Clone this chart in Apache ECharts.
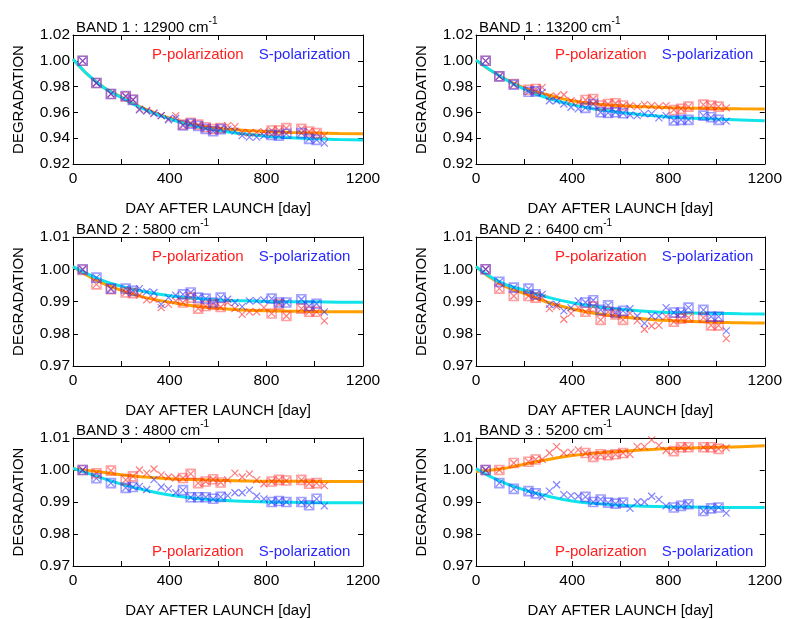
<!DOCTYPE html>
<html>
<head>
<meta charset="utf-8">
<script src="https://cdn.jsdelivr.net/npm/echarts@6/dist/echarts.min.js"></script>
<style>
  html, body { margin: 0; padding: 0; background: #fff; }
  #chart { width: 785px; height: 619px; }
</style>
</head>
<body>
<div id="chart"></div>
<script>
// measurement days (all points drawn as "x"); a subset is also boxed with a square
const DAYS = [40, 97, 157, 218, 248, 275, 305, 335, 365, 395, 425, 455, 487, 518, 549, 580, 611, 640, 670, 700, 730, 760, 790, 822, 852, 883, 945, 977, 1008, 1040];
const SQUARE_DAYS = [40, 97, 157, 218, 248, 455, 487, 518, 549, 580, 611, 822, 852, 883, 945, 977, 1008];
const FIT_DAYS = [0, 100, 200, 300, 400, 500, 600, 700, 800, 900, 1000, 1100, 1200];
const X_TICKS = [0, 400, 800, 1200];

// BAND 1 : 12900
const b1a_P = [1.000, 0.9828, 0.9743, 0.9722, 0.9700, 0.9625, 0.9615, 0.9596, 0.9575, 0.9550, 0.9575, 0.9505, 0.9520, 0.9505, 0.9485, 0.9470, 0.9478, 0.9498, 0.9490, 0.9445, 0.9440, 0.9445, 0.9450, 0.9460, 0.9460, 0.9478, 0.9472, 0.9452, 0.9439, 0.9420];
const b1a_S = [1.000, 0.9828, 0.9743, 0.9727, 0.9696, 0.9619, 0.9610, 0.9590, 0.9575, 0.9542, 0.9555, 0.9498, 0.9512, 0.9495, 0.9472, 0.9454, 0.9470, 0.9470, 0.9455, 0.9420, 0.9408, 0.9408, 0.9420, 0.9426, 0.9420, 0.9434, 0.9439, 0.9395, 0.9387, 0.9362];
const b1a_Pfit = [1.0013, 0.9830, 0.9718, 0.9625, 0.9555, 0.9505, 0.9478, 0.9462, 0.9452, 0.9445, 0.9440, 0.9436, 0.9434];
const b1a_Sfit = [1.0013, 0.9830, 0.9715, 0.9620, 0.9550, 0.9495, 0.9460, 0.9435, 0.9415, 0.9403, 0.9395, 0.9390, 0.9387];

// BAND 1 : 13200
const b1b_P = [1.000, 0.9879, 0.9820, 0.9776, 0.9781, 0.9794, 0.9722, 0.9727, 0.9737, 0.9690, 0.9678, 0.9696, 0.9704, 0.9653, 0.9665, 0.9671, 0.9653, 0.9653, 0.9645, 0.9660, 0.9653, 0.9645, 0.9653, 0.9619, 0.9627, 0.9645, 0.9660, 0.9653, 0.9645, 0.9635];
const b1b_S = [1.000, 0.9879, 0.9815, 0.9760, 0.9763, 0.9755, 0.9690, 0.9690, 0.9665, 0.9640, 0.9627, 0.9635, 0.9665, 0.9601, 0.9596, 0.9601, 0.9593, 0.9580, 0.9575, 0.9588, 0.9590, 0.9557, 0.9575, 0.9537, 0.9542, 0.9542, 0.9575, 0.9562, 0.9542, 0.9532];
const b1b_Pfit = [1.0005, 0.9880, 0.9790, 0.9735, 0.9690, 0.9665, 0.9652, 0.9643, 0.9637, 0.9633, 0.9630, 0.9628, 0.9627];
const b1b_Sfit = [1.0005, 0.9880, 0.9780, 0.9710, 0.9660, 0.9625, 0.9600, 0.9580, 0.9565, 0.9555, 0.9548, 0.9542, 0.9535];

// BAND 2 : 5800
const b2a_P = [0.9998, 0.9953, 0.9938, 0.9928, 0.9926, 0.9920, 0.9905, 0.9907, 0.9881, 0.9891, 0.9902, 0.9897, 0.9912, 0.9878, 0.9886, 0.9891, 0.9883, 0.9897, 0.9878, 0.9860, 0.9868, 0.9868, 0.9881, 0.9863, 0.9891, 0.9855, 0.9878, 0.9868, 0.9868, 0.9840];
const b2a_S = [1.000, 0.9974, 0.9940, 0.9940, 0.9933, 0.9940, 0.9930, 0.9928, 0.9891, 0.9912, 0.9920, 0.9922, 0.9928, 0.9912, 0.9909, 0.9897, 0.9912, 0.9907, 0.9897, 0.9884, 0.9902, 0.9902, 0.9905, 0.9909, 0.9897, 0.9897, 0.9907, 0.9886, 0.9893, 0.9868];
const b2a_Pfit = [1.0008, 0.9965, 0.9935, 0.9912, 0.9898, 0.9886, 0.9879, 0.9874, 0.9871, 0.9870, 0.9869, 0.9868, 0.9868];
const b2a_Sfit = [1.0008, 0.9972, 0.9947, 0.9930, 0.9918, 0.9910, 0.9905, 0.9902, 0.9900, 0.9899, 0.9899, 0.9898, 0.9898];

// BAND 2 : 6400
const b2b_P = [1.000, 0.9940, 0.9917, 0.9917, 0.9912, 0.9912, 0.9878, 0.9884, 0.9845, 0.9863, 0.9881, 0.9868, 0.9884, 0.9843, 0.9868, 0.9860, 0.9843, 0.9863, 0.9840, 0.9814, 0.9824, 0.9826, 0.9853, 0.9837, 0.9847, 0.9850, 0.9850, 0.9826, 0.9826, 0.9785];
const b2b_S = [1.000, 0.9961, 0.9943, 0.9940, 0.9922, 0.9922, 0.9891, 0.9891, 0.9871, 0.9881, 0.9902, 0.9897, 0.9904, 0.9874, 0.9888, 0.9866, 0.9871, 0.9878, 0.9855, 0.9832, 0.9855, 0.9855, 0.9881, 0.9866, 0.9866, 0.9881, 0.9874, 0.9853, 0.9853, 0.9809];
const b2b_Pfit = [1.0008, 0.9955, 0.9925, 0.9897, 0.9877, 0.9863, 0.9853, 0.9846, 0.9841, 0.9838, 0.9836, 0.9834, 0.9833];
const b2b_Sfit = [1.0008, 0.9960, 0.9935, 0.9913, 0.9896, 0.9884, 0.9876, 0.9870, 0.9866, 0.9864, 0.9863, 0.9862, 0.9861];

// BAND 3 : 4800
const b3a_P = [1.000, 0.9990, 0.9998, 0.9969, 0.9980, 1.0000, 0.9990, 1.0003, 0.9985, 0.9978, 0.9975, 0.9975, 0.9988, 0.9959, 0.9964, 0.9971, 0.9961, 0.9969, 0.9990, 0.9978, 0.9988, 0.9969, 0.9957, 0.9964, 0.9969, 0.9967, 0.9969, 0.9957, 0.9959, 0.9951];
const b3a_S = [1.000, 0.9974, 0.9959, 0.9944, 0.9947, 0.9949, 0.9939, 0.9970, 0.9947, 0.9941, 0.9929, 0.9937, 0.9915, 0.9915, 0.9915, 0.9910, 0.9916, 0.9920, 0.9929, 0.9929, 0.9937, 0.9918, 0.9910, 0.9900, 0.9903, 0.9900, 0.9900, 0.9890, 0.9910, 0.9888];
const b3a_Pfit = [1.0004, 0.9995, 0.9985, 0.9978, 0.9973, 0.9970, 0.9968, 0.9966, 0.9965, 0.9965, 0.9964, 0.9964, 0.9964];
const b3a_Sfit = [1.0005, 0.9980, 0.9956, 0.9937, 0.9922, 0.9912, 0.9906, 0.9902, 0.9900, 0.9899, 0.9898, 0.9898, 0.9898];

// BAND 3 : 5200
const b3b_P = [1.000, 1.000, 1.0022, 1.0026, 1.0033, 1.0033, 1.0053, 1.0073, 1.0053, 1.0056, 1.0063, 1.0053, 1.0041, 1.0049, 1.0046, 1.0049, 1.0053, 1.0049, 1.0073, 1.0073, 1.0094, 1.0077, 1.0061, 1.0059, 1.0071, 1.0071, 1.0071, 1.0071, 1.0066, 1.0069];
const b3b_S = [1.000, 0.9959, 0.9941, 0.9934, 0.9927, 0.9916, 0.9934, 0.9954, 0.9923, 0.9920, 0.9918, 0.9916, 0.9900, 0.9908, 0.9898, 0.9895, 0.9898, 0.9880, 0.9900, 0.9900, 0.9918, 0.9908, 0.9888, 0.9883, 0.9888, 0.9893, 0.9872, 0.9880, 0.9883, 0.9865];
const b3b_Pfit = [0.9995, 1.0003, 1.0018, 1.0033, 1.0045, 1.0053, 1.0058, 1.0063, 1.0067, 1.0069, 1.0071, 1.0073, 1.0076];
const b3b_Sfit = [1.0005, 0.9965, 0.9938, 0.9918, 0.9903, 0.9895, 0.9890, 0.9887, 0.9885, 0.9884, 0.9883, 0.9883, 0.9883];

const PANELS = [
  { band: 'BAND 1 : 12900 cm', P: b1a_P, S: b1a_S, Pfit: b1a_Pfit, Sfit: b1a_Sfit, yMin: 0.92, yMax: 1.02, yStep: 0.02 },
  { band: 'BAND 1 : 13200 cm', P: b1b_P, S: b1b_S, Pfit: b1b_Pfit, Sfit: b1b_Sfit, yMin: 0.92, yMax: 1.02, yStep: 0.02 },
  { band: 'BAND 2 : 5800 cm', P: b2a_P, S: b2a_S, Pfit: b2a_Pfit, Sfit: b2a_Sfit, yMin: 0.97, yMax: 1.01, yStep: 0.01 },
  { band: 'BAND 2 : 6400 cm', P: b2b_P, S: b2b_S, Pfit: b2b_Pfit, Sfit: b2b_Sfit, yMin: 0.97, yMax: 1.01, yStep: 0.01 },
  { band: 'BAND 3 : 4800 cm', P: b3a_P, S: b3a_S, Pfit: b3a_Pfit, Sfit: b3a_Sfit, yMin: 0.97, yMax: 1.01, yStep: 0.01 },
  { band: 'BAND 3 : 5200 cm', P: b3b_P, S: b3b_S, Pfit: b3b_Pfit, Sfit: b3b_Sfit, yMin: 0.97, yMax: 1.01, yStep: 0.01 }
];

const FONT = '"Liberation Sans", Arial, sans-serif';
const COL_LEFT = [73, 476];
const ROW_TOP = [35, 237, 438];
const GRID_W = 290, GRID_H = 129;
const CROSS = 'path://M0,0L10,10M10,0L0,10';

const P_NAME = 'P-polarization', S_NAME = 'S-polarization';
const RED = 'rgba(255,20,20,0.7)', BLUE = 'rgba(30,30,255,0.7)';
const RED_SQ = 'rgba(255,40,40,0.55)', BLUE_SQ = 'rgba(40,40,255,0.55)';

const grids = [], xAxes = [], yAxes = [], series = [], titles = [], legends = [];

PANELS.forEach((p, i) => {
  const left = COL_LEFT[i % 2];
  const top = ROW_TOP[Math.floor(i / 2)];
  grids.push({ left: left, top: top, width: GRID_W, height: GRID_H });

  const tickStyle = { show: true, inside: true, length: 5, lineStyle: { color: '#000', width: 1 } };
  const lineStyle = { show: true, onZero: false, lineStyle: { color: '#000', width: 1 } };

  xAxes.push({
    gridIndex: i, type: 'value', min: 0, max: 1200, interval: 200,
    axisLine: lineStyle, axisTick: tickStyle, splitLine: { show: false },
    axisLabel: {
      color: '#000', fontSize: 15.5, fontFamily: FONT, margin: 7,
      formatter: v => (X_TICKS.indexOf(v) >= 0 ? String(v) : '')
    },
    name: 'DAY AFTER LAUNCH [day]', nameLocation: 'middle', nameGap: 37,
    nameTextStyle: { color: '#000', fontSize: 15, fontFamily: FONT }
  });
  xAxes.push({
    gridIndex: i, type: 'value', position: 'top', min: 0, max: 1200, interval: 200,
    axisLine: lineStyle, axisTick: tickStyle, splitLine: { show: false }, axisLabel: { show: false }
  });
  yAxes.push({
    gridIndex: i, type: 'value', min: p.yMin, max: p.yMax, interval: p.yStep,
    axisLine: lineStyle, axisTick: tickStyle, splitLine: { show: false },
    axisLabel: { color: '#000', fontSize: 15.5, fontFamily: FONT, margin: 3, formatter: v => v.toFixed(2) },
    name: 'DEGRADATION', nameLocation: 'middle', nameGap: 47, nameRotate: 90,
    nameTextStyle: { color: '#000', fontSize: 15, fontFamily: FONT }
  });
  yAxes.push({
    gridIndex: i, type: 'value', position: 'right', min: p.yMin, max: p.yMax, interval: p.yStep,
    axisLine: lineStyle, axisTick: tickStyle, splitLine: { show: false }, axisLabel: { show: false }
  });

  titles.push({
    left: left + 3, top: top - 19, padding: 0,
    text: p.band + '{sup|-1}',
    textStyle: {
      color: '#000', fontSize: 15, fontWeight: 'normal', fontFamily: FONT, lineHeight: 24,
      rich: { sup: { color: '#000', fontSize: 10, fontFamily: FONT, lineHeight: 6, verticalAlign: 'top' } }
    }
  });

  const lowerLegend = i >= 4;
  legends.push({
    left: left + 73, top: lowerLegend ? top + 106 : top + 12,
    padding: 0, itemWidth: 0, itemHeight: 0, itemGap: 9, selectedMode: false,
    textStyle: { fontSize: 15, fontFamily: FONT },
    data: [
      { name: P_NAME, textStyle: { color: '#ff2020' } },
      { name: S_NAME, textStyle: { color: '#2828ff' } }
    ]
  });

  const xi = i * 2, yi = i * 2;
  const pts = vals => DAYS.map((d, k) => [d, vals[k]]);
  const sq = vals => SQUARE_DAYS.map(d => [d, vals[DAYS.indexOf(d)]]);
  const fit = vals => FIT_DAYS.map((d, k) => [d, vals[k]]);

  series.push(
    { name: P_NAME, type: 'line', xAxisIndex: xi, yAxisIndex: yi, data: fit(p.Pfit), smooth: true,
      showSymbol: false, z: 2, silent: true, lineStyle: { color: '#ffa000', width: 3 }, itemStyle: { color: '#ffa000' } },
    { name: S_NAME, type: 'line', xAxisIndex: xi, yAxisIndex: yi, data: fit(p.Sfit), smooth: true,
      showSymbol: false, z: 2, silent: true, lineStyle: { color: '#10e4ea', width: 3 }, itemStyle: { color: '#10e4ea' } },
    { name: P_NAME, type: 'scatter', xAxisIndex: xi, yAxisIndex: yi, data: pts(p.P), symbol: CROSS, symbolSize: 7, z: 3,
      itemStyle: { color: 'transparent', borderColor: RED, borderWidth: 1.2 } },
    { name: S_NAME, type: 'scatter', xAxisIndex: xi, yAxisIndex: yi, data: pts(p.S), symbol: CROSS, symbolSize: 7, z: 3,
      itemStyle: { color: 'transparent', borderColor: BLUE, borderWidth: 1.2 } },
    { name: P_NAME, type: 'scatter', xAxisIndex: xi, yAxisIndex: yi, data: sq(p.P), symbol: 'rect', symbolSize: 9, z: 3,
      itemStyle: { color: 'transparent', borderColor: RED_SQ, borderWidth: 1.6 } },
    { name: S_NAME, type: 'scatter', xAxisIndex: xi, yAxisIndex: yi, data: sq(p.S), symbol: 'rect', symbolSize: 9, z: 3,
      itemStyle: { color: 'transparent', borderColor: BLUE_SQ, borderWidth: 1.6 } }
  );
});

const chart = echarts.init(document.getElementById('chart'), null, { renderer: 'canvas' });
chart.setOption({
  backgroundColor: '#fff',
  animation: false,
  title: titles,
  legend: legends,
  grid: grids,
  xAxis: xAxes,
  yAxis: yAxes,
  series: series
});
</script>
</body>
</html>
